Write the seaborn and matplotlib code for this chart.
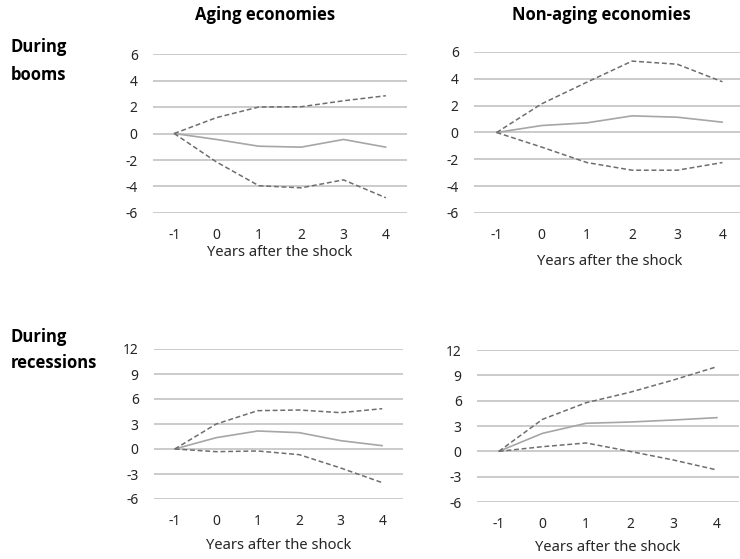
import matplotlib
matplotlib.use("Agg")
import matplotlib.pyplot as plt
import seaborn as sns
import pandas as pd

sns.set_theme(style="white")
plt.rcParams["font.family"] = ["Noto Sans", "DejaVu Sans"]

years = [-1, 0, 1, 2, 3, 4]

# Aging economies, during booms
aging_boom_mid = [0, -0.45, -0.96, -1.03, -0.45, -1.03]
aging_boom_hi = [0, 1.2, 2.0, 2.02, 2.47, 2.85]
aging_boom_lo = [0, -2.15, -3.94, -4.1, -3.5, -4.85]

# Non-aging economies, during booms
nonaging_boom_mid = [0, 0.52, 0.72, 1.24, 1.14, 0.77]
nonaging_boom_hi = [0, 2.14, 3.75, 5.32, 5.09, 3.78]
nonaging_boom_lo = [0, -1.09, -2.24, -2.81, -2.81, -2.24]

# Aging economies, during recessions
aging_rec_mid = [0, 1.36, 2.16, 1.96, 1.0, 0.4]
aging_rec_hi = [0, 3.0, 4.6, 4.68, 4.36, 4.84]
aging_rec_lo = [0, -0.32, -0.24, -0.68, -2.28, -4.04]

# Non-aging economies, during recessions
nonaging_rec_mid = [0, 2.13, 3.32, 3.47, 3.71, 3.99]
nonaging_rec_hi = [0, 3.79, 5.76, 6.99, 8.45, 10.03]
nonaging_rec_lo = [0, 0.55, 0.99, 0.0, -1.03, -2.21]

col_titles = ["Aging economies", "Non-aging economies"]
row_titles = [["During", "booms"], ["During", "recessions"]]
boom_ticks = [-6, -4, -2, 0, 2, 4, 6]
rec_ticks = [-6, -3, 0, 3, 6, 9, 12]
x_title = "Years after the shock"

W, H = 740, 559
fig = plt.figure(figsize=(W / 100, H / 100), dpi=100)


def px_axes(left, right, top, bottom):
    return fig.add_axes([left / W, 1 - bottom / H, (right - left) / W, (bottom - top) / H])


panels = [
    # (box, mid, hi, lo, yticks, labelpad)
    ((153, 407, 54, 213), aging_boom_mid, aging_boom_hi, aging_boom_lo, boom_ticks, 1.5),
    ((474, 745, 52, 213), nonaging_boom_mid, nonaging_boom_hi, nonaging_boom_lo, boom_ticks, 7.5),
    ((154, 403, 349, 499), aging_rec_mid, aging_rec_hi, aging_rec_lo, rec_ticks, 6),
    ((477, 739, 350, 502), nonaging_rec_mid, nonaging_rec_hi, nonaging_rec_lo, rec_ticks, 5.5),
]

grid_color = "#bdbdbd"
text_color = "#262626"
bold_font = ["Open Sans", "DejaVu Sans"]

for box, mid, hi, lo, yt, lp in panels:
    ax = px_axes(*box)
    df = pd.DataFrame({
        "year": years * 3,
        "value": mid + hi + lo,
        "band": ["mid"] * 6 + ["hi"] * 6 + ["lo"] * 6,
    })
    for yv in yt:
        ax.axhline(yv, color=grid_color, lw=1.1, zorder=0)
    sns.lineplot(data=df[df.band == "mid"], x="year", y="value", ax=ax,
                 color="#a6a6a6", lw=1.2, zorder=3)
    for b in ["hi", "lo"]:
        sns.lineplot(data=df[df.band == b], x="year", y="value", ax=ax,
                     color="#6e6e6e", lw=1.1, linestyle=(0, (3.2, 1.8)), zorder=4)
    ax.set_xlim(-1.5, 4.5)
    ax.set_ylim(yt[0], yt[-1])
    ax.set_xticks(years)
    ax.set_xticklabels([str(y) for y in years])
    ax.set_yticks(yt)
    ax.set_yticklabels([str(v) for v in yt])
    ax.tick_params(axis="both", length=0, labelsize=10, colors=text_color)
    ax.tick_params(axis="y", pad=11)
    ax.tick_params(axis="x", pad=11)
    for s in ax.spines.values():
        s.set_visible(False)
    ax.grid(False)
    ax.set_ylabel("")
    ax.set_xlabel(x_title, fontsize=10.6, color=text_color, labelpad=lp)
    ax.patch.set_alpha(0)

# column headings
for xc, t in zip([265, 601], col_titles):
    fig.text(xc / W, 1 - 15 / H, t, ha="center", va="center",
             fontsize=12, fontweight="bold", family=bold_font, color="black")

# row headings, one line at a time
for lines, ys in zip(row_titles, [(47, 75), (337, 363)]):
    for line, yc in zip(lines, ys):
        fig.text(11 / W, 1 - yc / H, line, ha="left", va="center",
                 fontsize=12, fontweight="bold", family=bold_font, color="black")

fig.savefig("out.png", dpi=100, facecolor="white")
